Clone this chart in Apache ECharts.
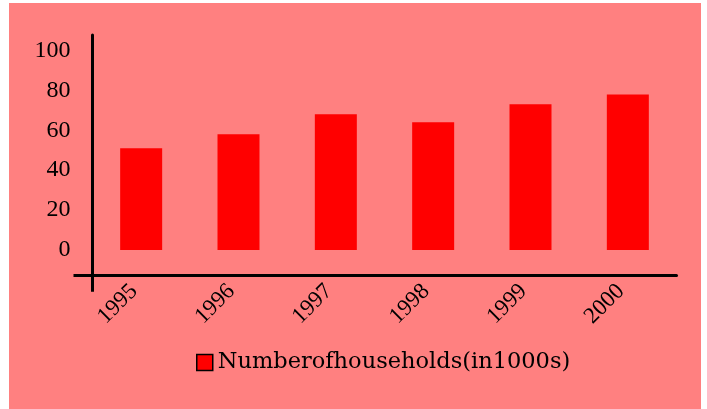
<!DOCTYPE html>
<html>
<head>
<meta charset="utf-8">
<script src="https://cdn.jsdelivr.net/npm/echarts@6/dist/echarts.min.js"></script>
<style>
  html, body { margin: 0; padding: 0; background: #ffffff; }
  #chart { position: absolute; left: 9px; top: 3px; width: 692px; height: 406px; }
</style>
</head>
<body>
<div id="chart"></div>
<script>
const categories = ['1995', '1996', '1997', '1998', '1999', '2000'];
const households = [51, 58, 68, 64, 73, 78];
const yTickLabels = [0, 20, 40, 60, 80, 100];
const seriesName = 'Numberofhouseholds(in1000s)';

const SERIF = '"Liberation Serif", serif';
const chart = echarts.init(document.getElementById('chart'));
const yMin = -12.88, yMax = 107.77;
chart.setOption({
  backgroundColor: '#FF8080',
  animation: false,
  grid: { left: 83.5, right: 24.5, top: 32, bottom: 133.3, containLabel: false },
  legend: {
    show: true,
    left: 182,
    top: 343,
    icon: 'rect',
    itemWidth: 16,
    itemHeight: 16,
    itemStyle: { borderColor: '#000000', borderWidth: 1.5 },
    textStyle: { fontFamily: '"DejaVu Serif", serif', fontSize: 22.5, color: '#000000' },
    data: [seriesName]
  },
  xAxis: [{
    type: 'category',
    data: categories,
    boundaryGap: true,
    axisLine: { show: true, onZero: false, lineStyle: { color: '#000000', width: 3 } },
    axisTick: { show: false },
    axisLabel: {
      rotate: 45,
      margin: 5,
      padding: [0, 10, 0, 0],
      fontFamily: SERIF,
      fontSize: 23,
      color: '#000000'
    },
    splitLine: { show: false }
  }, {
    type: 'value',
    position: 'bottom',
    min: 0,
    max: 1,
    axisLine: { show: false, onZero: false },
    axisTick: {
      show: true,
      length: 16,
      customValues: [0],
      lineStyle: { color: '#000000', width: 3 }
    },
    axisLabel: { show: false },
    splitLine: { show: false }
  }],
  yAxis: {
    type: 'value',
    min: yMin,
    max: yMax,
    axisLine: { show: true, onZero: false, lineStyle: { color: '#000000', width: 3 } },
    axisTick: {
      show: true,
      length: 19,
      customValues: [yMin],
      lineStyle: { color: '#000000', width: 3 }
    },
    axisLabel: {
      customValues: yTickLabels,
      margin: 22,
      fontFamily: SERIF,
      fontSize: 24,
      color: '#000000'
    },
    splitLine: { show: false }
  },
  series: [{
    name: seriesName,
    type: 'bar',
    xAxisIndex: 0,
    data: households,
    barWidth: 42,
    itemStyle: { color: '#FF0000' }
  }]
});
</script>
</body>
</html>
